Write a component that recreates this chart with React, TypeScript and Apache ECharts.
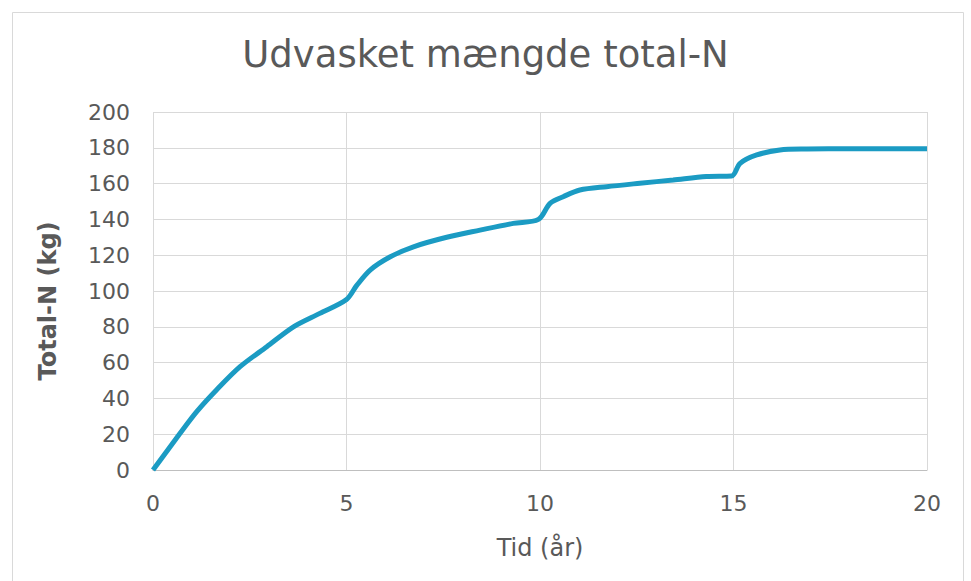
import React, { useEffect, useRef } from "react";
import * as echarts from "echarts";

const years = [0, 0.7, 1.13, 1.64, 2.25, 2.94, 3.63, 4.31, 5.0, 5.26, 5.61, 6.12, 6.73, 7.59, 8.45, 9.31, 9.96, 10.26, 10.6, 11.03, 11.72, 12.58, 13.44, 14.3, 14.95, 15.17, 15.6, 16.2, 16.9, 18, 20];
const totalN = [0, 20.5, 32.6, 44.7, 57.7, 68.9, 80, 87.5, 95.3, 103, 111.7, 119, 124.7, 130, 134, 137.8, 140, 149, 152.7, 156.4, 158.3, 160.2, 162, 163.9, 164.2, 171.3, 176, 178.8, 179.3, 179.5, 179.5];

const title = "Udvasket mængde total-N";
const xName = "Tid (år)";
const yName = "Total-N (kg)";

export default function App() {
  const ref = useRef<HTMLDivElement>(null);
  useEffect(() => {
    if (!ref.current) return;
    const chart = echarts.init(ref.current, null, { renderer: "svg" });
    const font = "DejaVu Sans";
    chart.setOption({
      animation: false,
      backgroundColor: "#ffffff",
      title: {
        text: title,
        left: "center",
        top: 31,
        textStyle: { fontFamily: font, fontSize: 37, fontWeight: "normal", color: "#595959" },
      },
      graphic: [
        {
          type: "rect",
          shape: { x: 12.5, y: 12.5, width: 951, height: 580 },
          style: { fill: "none", stroke: "#d9d9d9", lineWidth: 1 },
          silent: true,
        },
        {
          type: "text",
          x: 48,
          y: 301,
          rotation: Math.PI / 2,
          style: {
            text: yName,
            fontFamily: font,
            fontSize: 24,
            fontWeight: "bold",
            fill: "#595959",
            textAlign: "center",
            textVerticalAlign: "middle",
          },
          silent: true,
        },
      ],
      grid: { left: 153, right: 44, top: 112, bottom: 111 },
      xAxis: {
        type: "value",
        min: 0,
        max: 20,
        interval: 5,
        name: xName,
        nameLocation: "middle",
        nameGap: 66,
        nameTextStyle: { fontFamily: font, fontSize: 24, color: "#595959" },
        axisLine: { show: true, lineStyle: { color: "#bfbfbf", width: 1 } },
        axisTick: { show: false },
        axisLabel: { fontFamily: font, fontSize: 22, color: "#595959", margin: 22 },
        splitLine: { show: true, lineStyle: { color: "#d9d9d9", width: 1 } },
      },
      yAxis: {
        type: "value",
        min: 0,
        max: 200,
        interval: 20,
        axisLine: { show: false },
        axisTick: { show: false },
        axisLabel: { fontFamily: font, fontSize: 22, color: "#595959", margin: 23 },
        splitLine: { show: true, lineStyle: { color: "#d9d9d9", width: 1 } },
      },
      series: [
        {
          type: "line",
          data: years.map((t, i) => [t, totalN[i]]),
          showSymbol: false,
          smooth: 0.3,
          lineStyle: { color: "#1b9bc3", width: 5 },
        },
      ],
    });
    return () => chart.dispose();
  }, []);
  return (
    <div
      ref={ref}
      style={{ position: "fixed", left: 0, top: 0, width: 971, height: 581 }}
    />
  );
}
